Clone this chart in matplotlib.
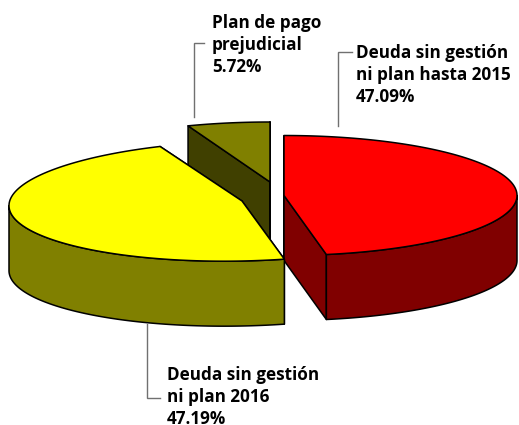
import numpy as np
import matplotlib
matplotlib.use("Agg")
import matplotlib.pyplot as plt
from matplotlib.patches import Polygon

# Data
categories = ["Deuda sin gestión\nni plan hasta 2015",
              "Deuda sin gestión\nni plan 2016",
              "Plan de pago\nprejudicial"]
shares = [47.09, 47.19, 5.72]

# Style / layout (pixel space)
top_colors = ["#ff0000", "#ffff00", "#808000"]
wall_colors = ["#800000", "#808000", "#404000"]
centers = [(284, 195.5), (242, 201), (270, 182)]
tilts = [0.0, -0.02, 0.0]
label_pos = [(356, 102), (167, 424), (212, 72)]
leaders = [[(352, 52), (338, 52), (338, 126)],
           [(147, 324), (147, 398), (160, 398)],
           [(204, 43), (193.5, 43), (193.5, 117)]]
A, B, DEPTH = 233, 60, 65
LW = 1.1

plt.rcParams['font.family'] = ['Open Sans', 'DejaVu Sans']
fig = plt.figure(figsize=(5.19, 4.25), dpi=100)
ax = fig.add_axes([0, 0, 1, 1])
ax.set_xlim(0, 519)
ax.set_ylim(425, 0)
ax.axis("off")

def rim(c, t, k):
    dx = A * np.sin(t)
    return np.column_stack([c[0] + dx, c[1] - B * np.cos(t) + k * dx])

edges = np.radians(np.concatenate([[0], np.cumsum(shares)]) * 3.6)
edges[-1] = 2 * np.pi
spans = list(zip(edges[:-1], edges[1:]))

# Painter's order: back slice, then red, then yellow
for z, i in enumerate([2, 0, 1], start=1):
    c = np.array(centers[i], float)
    k = tilts[i]
    t0, t1 = spans[i]
    down = np.array([0, DEPTH])
    for t in (t0, t1):
        p = rim(c, t, k)[0]
        ax.add_patch(Polygon([c, p, p + down, c + down], closed=True, fc=wall_colors[i],
                             ec="black", lw=LW, zorder=z, joinstyle="round"))
    lo, hi = max(t0, np.pi / 2), min(t1, 3 * np.pi / 2)
    if hi > lo:
        t = np.linspace(lo, hi, 200)
        r = rim(c, t, k)
        ax.add_patch(Polygon(np.vstack([r, (r + down)[::-1]]), closed=True, fc=wall_colors[i],
                             ec="black", lw=LW, zorder=z, joinstyle="round"))
    t = np.linspace(t0, t1, 300)
    ax.add_patch(Polygon(np.vstack([c, rim(c, t, k)]), closed=True, fc=top_colors[i],
                         ec="black", lw=LW, zorder=z, joinstyle="round"))

for name, share, pos, lead in zip(categories, shares, label_pos, leaders):
    xs, ys = zip(*lead)
    ax.plot(xs, ys, color="#707070", lw=1.0, zorder=5, solid_joinstyle="miter")
    ax.text(pos[0], pos[1], f"{name}\n{share:.2f}%", ha="left", va="baseline",
            fontsize=12.3, fontweight="bold", color="black",
            linespacing=1.3, zorder=6)

fig.savefig("out.png", dpi=100)
